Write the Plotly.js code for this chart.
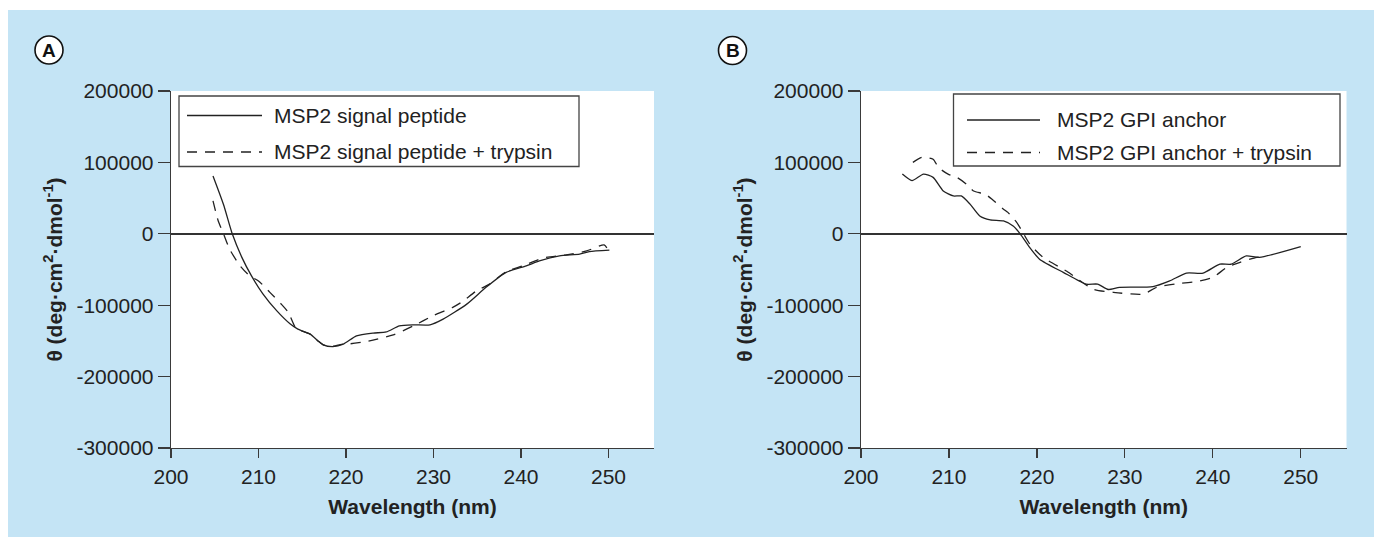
<!DOCTYPE html>
<html>
<head>
<meta charset="utf-8">
<script src="https://cdn.plot.ly/plotly-3.0.1.min.js"></script>
<style>
  html, body { margin: 0; padding: 0; background: #ffffff; }
  #chart { width: 1374px; height: 537px; }
</style>
</head>
<body>
<div id="chart"></div>
<script>
// ---------------- DATA ----------------
// Panel A: MSP2 signal peptide
const wlA_signal = [204.8, 206.0, 207.0, 208.1, 209.2, 210.5, 212.1, 213.6, 214.5, 215.9, 216.8, 217.4, 218.5, 219.7, 221.2, 223.1, 224.6, 226.1, 227.7, 229.6, 231.1, 233.8, 236.0, 238.3, 240.6, 242.1, 244.4, 246.7, 247.8, 250.1];
const thetaA_signal = [81000, 41000, 0, -33000, -59000, -84000, -108000, -126000, -133500, -140500, -150000, -155500, -158000, -154500, -143000, -139000, -137500, -129000, -127500, -127500, -119500, -98500, -75000, -54000, -45000, -38000, -31000, -28500, -25000, -23000];

// Panel A: MSP2 signal peptide + trypsin
const wlA_trypsin = [204.8, 205.4, 206.0, 206.7, 207.9, 209.0, 210.0, 211.3, 212.6, 213.4, 214.2, 214.5, 215.9, 216.8, 217.4, 218.5, 219.7, 220.5, 222.3, 225.4, 227.7, 229.9, 232.2, 233.3, 234.9, 236.4, 238.3, 240.2, 242.5, 245.2, 247.5, 249.5, 249.9];
const thetaA_trypsin = [46000, 18000, 0, -21500, -45000, -59000, -66000, -82000, -98500, -110000, -131000, -134000, -140500, -150000, -155500, -157500, -154500, -154000, -151000, -141500, -129000, -115000, -103000, -95000, -80000, -70500, -53000, -45000, -34000, -29500, -24000, -15500, -21500];

// Panel B: MSP2 GPI anchor
const wlB_gpi = [204.7, 205.8, 207.1, 208.2, 209.35, 210.5, 211.4, 212.4, 213.5, 214.7, 216.2, 217.3, 218.1, 219.2, 220.3, 223.0, 225.6, 226.9, 228.1, 229.4, 233.2, 235.1, 237.0, 238.9, 240.8, 242.1, 243.8, 245.3, 250.0];
const thetaB_gpi = [83600, 74500, 83600, 79000, 60000, 53000, 53000, 41500, 25000, 19500, 18000, 11000, 0, -19500, -35500, -54000, -70500, -70500, -78000, -75000, -74000, -66000, -55000, -55000, -42500, -42500, -31000, -33000, -18000];

// Panel B: MSP2 GPI anchor + trypsin
const wlB_trypsin = [205.9, 206.9, 208.2, 208.8, 209.9, 210.9, 212.0, 212.8, 214.1, 214.9, 216.2, 216.7, 217.7, 218.3, 219.2, 220.7, 223.4, 226.4, 228.7, 232.1, 233.6, 236.3, 238.1, 240.0, 241.6, 243.1, 245.0, 245.8];
const thetaB_trypsin = [100000, 107000, 104500, 93000, 83500, 79000, 69500, 60000, 55500, 48500, 34500, 30000, 16000, 4000, -14500, -33000, -52500, -77500, -82000, -84500, -75000, -69500, -67000, -61000, -47000, -40000, -33000, -33000];

// Tick labels
const xTickVals = [200, 210, 220, 230, 240, 250];
const xTickText = ['200', '210', '220', '230', '240', '250'];
const yTickVals = [200000, 100000, 0, -100000, -200000, -300000];
const yTickText = ['200000', '100000', '0', '-100000', '-200000', '-300000'];

// Texts
const legendA = ['MSP2 signal peptide', 'MSP2 signal peptide + trypsin'];
const legendB = ['MSP2 GPI anchor', 'MSP2 GPI anchor + trypsin'];
const panelLabels = ['A', 'B'];
const xTitle = 'Wavelength (nm)';
const yTitle = 'θ (deg·cm<sup>2</sup>·dmol<sup>-1</sup>)';

// ---------------- LAYOUT HELPERS ----------------
const W = 1374, H = 537;
const px = x => x / W;
const py = y => 1 - y / H;

const FONT = '"Liberation Sans", Arial, Helvetica, sans-serif';
const INK = '#222222';
const AXIS = '#3a3a3a';
const BLUE = '#c4e4f5';

const lineSolid = {color: INK, width: 1.3, shape: 'spline', smoothing: 0.6};
const lineDash = {color: INK, width: 1.3, dash: '10px,8px', shape: 'spline', smoothing: 0.6};

const traces = [
  {x: wlA_signal, y: thetaA_signal, type: 'scatter', mode: 'lines', line: lineSolid, xaxis: 'x', yaxis: 'y', name: legendA[0]},
  {x: wlA_trypsin, y: thetaA_trypsin, type: 'scatter', mode: 'lines', line: lineDash, xaxis: 'x', yaxis: 'y', name: legendA[1]},
  {x: wlB_gpi, y: thetaB_gpi, type: 'scatter', mode: 'lines', line: lineSolid, xaxis: 'x2', yaxis: 'y2', name: legendB[0]},
  {x: wlB_trypsin, y: thetaB_trypsin, type: 'scatter', mode: 'lines', line: lineDash, xaxis: 'x2', yaxis: 'y2', name: legendB[1]}
];

const yDomain = [py(448), py(91)];

function xAxis(domain, anchor) {
  return {
    domain: domain, anchor: anchor, range: [200, 255.2],
    tickmode: 'array', tickvals: xTickVals, ticktext: xTickText,
    ticks: 'outside', ticklen: 9, tickwidth: 1.2, tickcolor: AXIS,
    showline: true, linecolor: AXIS, linewidth: 1.3,
    showgrid: false, zeroline: false,
    tickfont: {family: FONT, size: 21, color: INK},
    title: {text: '<b>' + xTitle + '</b>', font: {family: FONT, size: 21, color: INK}, standoff: 12},
    fixedrange: true
  };
}
function yAxis(anchor) {
  return {
    domain: yDomain, anchor: anchor, range: [-300000, 200000],
    tickmode: 'array', tickvals: yTickVals, ticktext: yTickText,
    ticks: 'outside', ticklen: 12, tickwidth: 1.2, tickcolor: AXIS,
    showline: true, linecolor: AXIS, linewidth: 1.3,
    showgrid: false, zeroline: true, zerolinecolor: '#333333', zerolinewidth: 1.4,
    tickfont: {family: FONT, size: 21, color: INK},
    title: {text: '<b>' + yTitle + '</b>', font: {family: FONT, size: 21, color: INK}, standoff: 8},
    fixedrange: true
  };
}

const shapes = [
  // white strips outside the blue panel
  {type: 'rect', xref: 'paper', yref: 'paper', x0: 0, x1: 1, y0: py(10), y1: 1, fillcolor: '#ffffff', line: {width: 0}, layer: 'below'},
  {type: 'rect', xref: 'paper', yref: 'paper', x0: 0, x1: px(8), y0: 0, y1: 1, fillcolor: '#ffffff', line: {width: 0}, layer: 'below'},
  // panel label circles
  {type: 'circle', xref: 'paper', yref: 'paper', x0: px(35), x1: px(63), y0: py(64), y1: py(36), fillcolor: '#ffffff', line: {color: '#111', width: 1.6}},
  {type: 'circle', xref: 'paper', yref: 'paper', x0: px(718.5), x1: px(746.5), y0: py(64.5), y1: py(36.5), fillcolor: '#ffffff', line: {color: '#111', width: 1.6}},
  // legend A box + samples
  {type: 'rect', xref: 'paper', yref: 'paper', x0: px(179), x1: px(579), y0: py(166.5), y1: py(96), fillcolor: '#ffffff', line: {color: '#444', width: 1.3}},
  {type: 'line', xref: 'paper', yref: 'paper', x0: px(187), x1: px(262), y0: py(115.5), y1: py(115.5), line: {color: INK, width: 1.3}},
  {type: 'line', xref: 'paper', yref: 'paper', x0: px(187), x1: px(262), y0: py(152), y1: py(152), line: {color: INK, width: 1.3, dash: '10px,8px'}},
  // legend B box + samples
  {type: 'rect', xref: 'paper', yref: 'paper', x0: px(953.5), x1: px(1340), y0: py(166), y1: py(94), fillcolor: '#ffffff', line: {color: '#444', width: 1.3}},
  {type: 'line', xref: 'paper', yref: 'paper', x0: px(967), x1: px(1040), y0: py(120), y1: py(120), line: {color: INK, width: 1.3}},
  {type: 'line', xref: 'paper', yref: 'paper', x0: px(967), x1: px(1040), y0: py(152.5), y1: py(152.5), line: {color: INK, width: 1.3, dash: '10px,8px'}}
];

function legendText(txt, x, y) {
  return {xref: 'paper', yref: 'paper', x: px(x), y: py(y), xanchor: 'left', yanchor: 'middle',
          text: txt, showarrow: false, font: {family: FONT, size: 21, color: INK}};
}
function panelText(txt, x, y) {
  return {xref: 'paper', yref: 'paper', x: px(x), y: py(y), xanchor: 'center', yanchor: 'middle',
          text: '<b>' + txt + '</b>', showarrow: false, font: {family: FONT, size: 19, color: '#111'}};
}

const annotations = [
  panelText(panelLabels[0], 49, 50.5),
  panelText(panelLabels[1], 732.5, 50.5),
  legendText(legendA[0], 272, 115.5),
  legendText(legendA[1], 272, 152),
  legendText(legendB[0], 1055, 120),
  legendText(legendB[1], 1055, 152.5)
];

const layout = {
  width: W, height: H,
  margin: {l: 0, r: 0, t: 0, b: 0},
  paper_bgcolor: BLUE,
  plot_bgcolor: '#ffffff',
  showlegend: false,
  font: {family: FONT, color: INK},
  xaxis: xAxis([px(171), px(654)], 'y'),
  yaxis: yAxis('x'),
  xaxis2: xAxis([px(861), px(1346.5)], 'y2'),
  yaxis2: yAxis('x2'),
  shapes: shapes,
  annotations: annotations
};

Plotly.newPlot('chart', traces, layout, {displayModeBar: false, staticPlot: true});
</script>
</body>
</html>
